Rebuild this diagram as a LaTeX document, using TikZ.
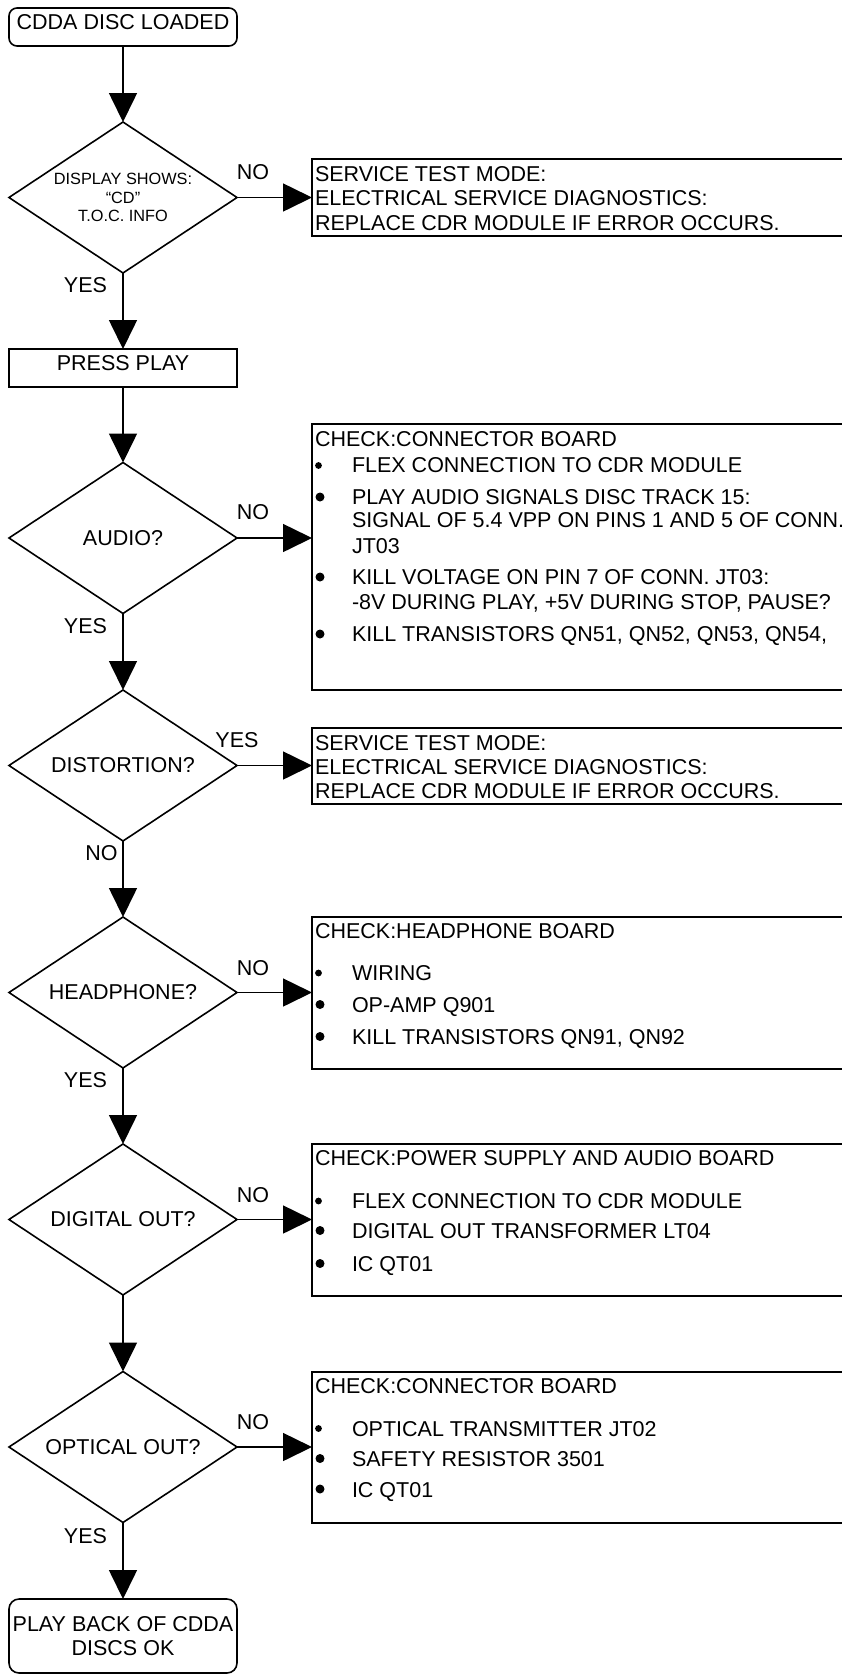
\documentclass[tikz,border=0pt]{standalone}
\usepackage{fontspec}
\setmainfont{Liberation Sans}
\usetikzlibrary{shapes.geometric,arrows.meta}
\begin{document}
\begin{tikzpicture}[x=1pt,y=-1pt,
  every node/.style={font=\fontsize{21.5}{24}\selectfont, inner sep=0pt, outer sep=0pt},
  flow/.style={line width=1.6pt, -{Triangle[length=29pt,width=28pt]}},
  term/.style={draw, line width=1.6pt, rounded corners=8pt, minimum width=228pt},
  proc/.style={draw, line width=1.6pt, minimum width=228pt},
  dec/.style={draw, diamond, line width=1.6pt, minimum width=228pt, minimum height=151pt, aspect=1.5},
  panel/.style={draw, line width=1.6pt, minimum width=560pt, anchor=north west},
  txt/.style={anchor=base west},
  lab/.style={anchor=center}
]
\useasboundingbox (0,0) rectangle (842,1674);

% ---------- main column ----------
\node[term, minimum height=38pt, text height=15pt, text depth=10pt] (start) at (123,27) {CDDA DISC LOADED};
\node[dec, font=\fontsize{16.3}{18.3}\selectfont, align=center] (d1) at (123,197.5) {DISPLAY SHOWS:\\“CD”\\T.O.C. INFO};
\node[proc, minimum height=38pt, text height=15pt, text depth=11pt] (pp) at (123,368) {PRESS PLAY};
\node[dec] (d2) at (123,538) {AUDIO?};
\node[dec] (d3) at (123,765.5) {DISTORTION?};
\node[dec] (d4) at (123,992.5) {HEADPHONE?};
\node[dec] (d5) at (123,1219.5) {DIGITAL OUT?};
\node[dec] (d6) at (123,1447) {OPTICAL OUT?};
\node[term, rounded corners=10pt, minimum height=74pt, align=center] (fin) at (123,1636) {PLAY BACK OF CDDA\\DISCS OK};

% ---------- side panels ----------
\node[panel, minimum height=77pt] (s1) at (312,159) {};
\node[panel, minimum height=266pt] (c1) at (312,424) {};
\node[panel, minimum height=76pt] (s2) at (312,728) {};
\node[panel, minimum height=152pt] (c3) at (312,917) {};
\node[panel, minimum height=152pt] (c4) at (312,1144) {};
\node[panel, minimum height=151pt] (c5) at (312,1372) {};

% ---------- connectors ----------
\draw[flow] (start.south) -- (d1.north);
\draw[flow] (d1.south) -- (pp.north);
\draw[flow] (pp.south) -- (d2.north);
\draw[flow] (d2.south) -- (d3.north);
\draw[flow] (d3.south) -- (d4.north);
\draw[flow] (d4.south) -- (d5.north);
\draw[flow] (d5.south) -- (d6.north);
\draw[flow] (d6.south) -- (fin.north);
\draw[flow] (d1.east) -- (d1.east -| s1.west);
\draw[flow] (d2.east) -- (d2.east -| c1.west);
\draw[flow] (d3.east) -- (d3.east -| s2.west);
\draw[flow] (d4.east) -- (d4.east -| c3.west);
\draw[flow] (d5.east) -- (d5.east -| c4.west);
\draw[flow] (d6.east) -- (d6.east -| c5.west);

% ---------- labels ----------
\node[lab] (l1n) at (253,172) {NO};
\node[lab] (l1y) at (85.5,285.5) {YES};
\node[lab] (l2n) at (253,512.5) {NO};
\node[lab] (l2y) at (85.5,626.5) {YES};
\node[lab] (l3y) at (237,740.5) {YES};
\node[lab] (l3n) at (101.5,853) {NO};
\node[lab] (l4n) at (253,968) {NO};
\node[lab] (l4y) at (85.5,1080) {YES};
\node[lab] (l5n) at (253,1195) {NO};
\node[lab] (l6n) at (253,1422) {NO};
\node[lab] (l6y) at (85.5,1536) {YES};

% ---------- panel texts ----------
\node[txt] (s1a) at (315,181.5) {SERVICE TEST MODE:};
\node[txt] (s1b) at (315,205.5) {ELECTRICAL SERVICE DIAGNOSTICS:};
\node[txt] (s1c) at (315,230) {REPLACE CDR MODULE IF ERROR OCCURS.};

\node[txt] (c1t) at (315,446) {CHECK:CONNECTOR BOARD};
\node[txt] (c1a) at (352,472) {FLEX CONNECTION TO CDR MODULE};
\node[txt] (c1b) at (352,504) {PLAY AUDIO SIGNALS DISC TRACK 15:};
\node[txt] (c1c) at (352,527.5) {SIGNAL OF 5.4 VPP ON PINS 1 AND 5 OF CONN.};
\node[txt] (c1d) at (352,553) {JT03};
\node[txt] (c1e) at (352,584) {KILL VOLTAGE ON PIN 7 OF CONN. JT03:};
\node[txt] (c1f) at (352,609) {-8V DURING PLAY, +5V DURING STOP, PAUSE?};
\node[txt] (c1g) at (352,641) {KILL TRANSISTORS QN51, QN52, QN53, QN54,};
\fill (318.5,465.5) circle (3.4);
\fill (320,497) circle (4.5);
\fill (320,577) circle (4.5);
\fill (320,634) circle (4.5);

\node[txt] (s2a) at (315,750) {SERVICE TEST MODE:};
\node[txt] (s2b) at (315,774) {ELECTRICAL SERVICE DIAGNOSTICS:};
\node[txt] (s2c) at (315,798.5) {REPLACE CDR MODULE IF ERROR OCCURS.};

\node[txt] (c3t) at (315,938) {CHECK:HEADPHONE BOARD};
\node[txt] (c3a) at (352,980) {WIRING};
\node[txt] (c3b) at (352,1012) {OP-AMP Q901};
\node[txt] (c3c) at (352,1044) {KILL TRANSISTORS QN91, QN92};
\fill (318.5,973) circle (3.4);
\fill (320,1004.5) circle (4.5);
\fill (320,1036.5) circle (4.5);

\node[txt] (c4t) at (315,1165) {CHECK:POWER SUPPLY AND AUDIO BOARD};
\node[txt] (c4a) at (352,1208) {FLEX CONNECTION TO CDR MODULE};
\node[txt] (c4b) at (352,1238) {DIGITAL OUT TRANSFORMER LT04};
\node[txt] (c4c) at (352,1271) {IC QT01};
\fill (318.5,1201) circle (3.4);
\fill (320,1230.5) circle (4.5);
\fill (320,1263.5) circle (4.5);

\node[txt] (c5t) at (315,1393) {CHECK:CONNECTOR BOARD};
\node[txt] (c5a) at (352,1436) {OPTICAL TRANSMITTER JT02};
\node[txt] (c5b) at (352,1466) {SAFETY RESISTOR 3501};
\node[txt] (c5c) at (352,1497) {IC QT01};
\fill (318.5,1428.5) circle (3.4);
\fill (320,1458.5) circle (4.5);
\fill (320,1489) circle (4.5);
\end{tikzpicture}
\end{document}
